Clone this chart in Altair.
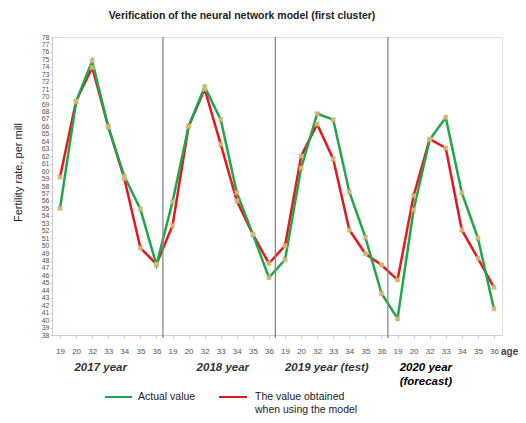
import altair as alt
import pandas as pd

ages = [19, 20, 32, 33, 34, 35, 36]
years = ["2017 year", "2018 year", "2019 year (test)", "2020 year"]
actual = [55.0, 69.3, 74.8, 65.9, 59.3, 54.9, 47.4,
          55.9, 66.0, 71.3, 66.9, 57.1, 51.5, 45.7,
          48.1, 60.4, 67.7, 66.9, 57.2, 51.1, 43.6,
          40.2, 54.8, 64.2, 67.2, 57.1, 51.0, 41.5]
model = [59.2, 69.4, 73.9, 66.0, 59.0, 49.7, 47.5,
         52.7, 66.0, 71.0, 63.6, 56.0, 51.5, 47.6,
         50.0, 62.0, 66.3, 61.6, 52.1, 48.9, 47.4,
         45.4, 56.7, 64.3, 63.1, 52.1, 48.3, 44.4]
series_names = ["Actual value", "The value obtained when using the model"]
colors = ["#1fa64b", "#e8161e"]

n = len(actual)
rows = []
for i in range(n):
    rows.append({"idx": i, "series": series_names[0], "value": actual[i]})
    rows.append({"idx": i, "series": series_names[1], "value": model[i]})
df = pd.DataFrame(rows)

W, H = 450, 298
FONT = "Liberation Sans"

label_expr = "[" + ",".join("'%d'" % a for a in ages) + "][datum.value % 7]"
x_scale = alt.Scale(domain=[-0.5, n - 0.5], nice=False, zero=False)
x_axis = alt.Axis(values=list(range(n)), labelExpr=label_expr, title=None,
                  grid=False, labelFont=FONT, labelFontSize=8, labelColor="#555",
                  tickSize=3, tickColor="#ccc", domainColor="#ccc",
                  labelPadding=9, labelOverlap=False, labelBound=False,
                  labelFlush=False)
x_enc = alt.X("idx:Q", scale=x_scale, axis=x_axis)
y_enc = alt.Y("value:Q",
              scale=alt.Scale(domain=[38, 78], nice=False, zero=False),
              axis=alt.Axis(values=list(range(38, 79)), title="Fertility rate, per mill",
                            grid=False, labelFont=FONT, labelFontSize=7, labelColor="#555",
                            tickSize=2, tickColor="#ccc", domainColor="#ccc",
                            labelPadding=1, labelOverlap=False,
                            titleFont=FONT, titleFontSize=11, titleFontWeight="normal",
                            titleColor="#222", titleX=-34, titleY=135,
                            titleBaseline="middle", titleAlign="center"))
color_scale = alt.Scale(domain=series_names, range=colors)
color_enc = alt.Color("series:N", scale=color_scale, legend=None)

base = alt.Chart(df)

red_line = base.transform_filter(alt.datum.series == series_names[1]).mark_line(
    strokeWidth=2.5).encode(x=x_enc, y=y_enc, color=color_enc)
green_line = base.transform_filter(alt.datum.series == series_names[0]).mark_line(
    strokeWidth=2.5).encode(x=x_enc, y=y_enc, color=color_enc)
points = base.mark_point(shape="cross", angle=45, filled=True, size=34,
                         color="#d2b878", opacity=0.95).encode(x=x_enc, y=y_enc)

seps = alt.Chart(pd.DataFrame({"idx": [k * 7 - 0.6 for k in range(1, len(years))]})).mark_rule(
    color="#888", strokeWidth=1.3).encode(
    x=x_enc, y=alt.value(0), y2=alt.value(H + 3))

# year labels
year_specs = [
    ("2017 year", 2.53, 331, "#333", "center"),
    ("2018 year", 10.13, 331, "#333", "center"),
    ("2019 year (test)", 16.6, 331, "#333", "center"),
    ("2020 year", 21.13, 331, "#000", "left"),
    ("(forecast)", 21.13, 345, "#000", "left"),
]
year_texts = []
for t, xv, yv, col, al in year_specs:
    year_texts.append(
        alt.Chart(pd.DataFrame({"t": [t], "idx": [xv]})).mark_text(
            font=FONT, fontSize=11.5, fontStyle="italic", fontWeight="bold",
            color=col, align=al, baseline="middle").encode(
            x=x_enc, y=alt.value(yv), text="t:N"))

age_text = alt.Chart(pd.DataFrame({"t": ["age"]})).mark_text(
    font=FONT, fontSize=10, fontWeight="bold", color="#444", align="left",
    baseline="middle").encode(x=alt.value(W - 1), y=alt.value(H + 17), text="t:N")

# legend (drawn in pixel space below the plot)
legend_layers = []
for s, col, x1, x2 in [(series_names[0], colors[0], 53, 80), (series_names[1], colors[1], 167, 195)]:
    legend_layers.append(
        alt.Chart(pd.DataFrame({"s": [s]})).mark_rule(strokeWidth=2, color=col).encode(
            x=alt.value(x1), x2=alt.value(x2), y=alt.value(360)))
for t, xv, yv in [("Actual value", 86, 360), ("The value obtained", 203, 360),
                  ("when using the model", 203, 373)]:
    legend_layers.append(
        alt.Chart(pd.DataFrame({"t": [t]})).mark_text(
            font=FONT, fontSize=10.5, color="#222", align="left", baseline="middle").encode(
            x=alt.value(xv), y=alt.value(yv), text="t:N"))

chart = alt.layer(red_line, green_line, seps, points, *year_texts, age_text, *legend_layers).properties(
    width=W, height=H,
    title=alt.TitleParams("Verification of the neural network model (first cluster)",
                          font=FONT, fontSize=10.5, fontWeight="bold", color="#222",
                          anchor="middle", dx=-35, offset=12),
    autosize=alt.AutoSizeParams(type="none"),
    padding={"left": 44, "top": 29, "right": 16, "bottom": 80},
).configure_view(stroke=None).configure(background="white")

chart.save("out.html", embed_options={"renderer": "svg", "actions": False})
